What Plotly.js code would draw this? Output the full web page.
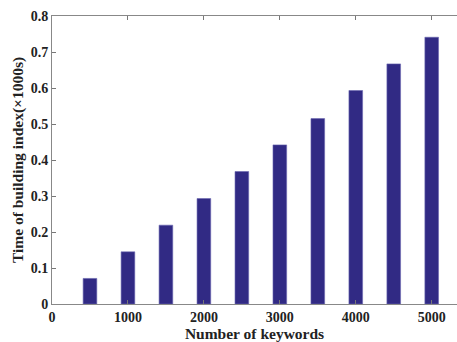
<!DOCTYPE html>
<html>
<head>
<meta charset="utf-8">
<script src="https://cdn.plot.ly/plotly-3.0.1.min.js"></script>
<style>html,body{margin:0;padding:0;background:#fff;}#chart{width:457px;height:342px;}</style>
</head>
<body>
<div id="chart"></div>
<script>
const keywords = [500, 1000, 1500, 2000, 2500, 3000, 3500, 4000, 4500, 5000];
const buildTime = [0.071, 0.145, 0.219, 0.293, 0.368, 0.442, 0.515, 0.593, 0.667, 0.741];
const xTicks = [0, 1000, 2000, 3000, 4000, 5000];
const yTicks = [0, 0.1, 0.2, 0.3, 0.4, 0.5, 0.6, 0.7, 0.8];
const yTickText = ['0', '0.1', '0.2', '0.3', '0.4', '0.5', '0.6', '0.7', '0.8'];

const font = {family: '"Liberation Serif", "Times New Roman", serif', color: '#222'};
Plotly.newPlot('chart', [{
  type: 'bar',
  x: keywords,
  y: buildTime,
  width: 180,
  marker: {color: '#312a84', line: {color: '#6a66b0', width: 0.6}},
  hoverinfo: 'none'
}], {
  width: 457, height: 342,
  margin: {l: 52, r: 0, t: 16, b: 38},
  paper_bgcolor: '#fff', plot_bgcolor: '#fff',
  showlegend: false,
  font: font,
  xaxis: {
    range: [0, 5333], tickvals: xTicks, ticktext: xTicks.map(String),
    ticks: 'inside', ticklen: 4, tickcolor: '#777', tickwidth: 1,
    showline: true, linecolor: '#888', linewidth: 1, mirror: 'ticks',
    showgrid: false, zeroline: false,
    tickfont: {family: font.family, size: 14, color: '#222', weight: 'bold'},
    title: {text: '<b>Number of keywords</b>', font: {family: font.family, size: 15.5, color: '#222'}, standoff: 4}
  },
  yaxis: {
    range: [0, 0.8], tickvals: yTicks, ticktext: yTickText,
    ticks: 'inside', ticklen: 4, tickcolor: '#777', tickwidth: 1,
    showline: true, linecolor: '#888', linewidth: 1, mirror: false,
    showgrid: false, zeroline: false,
    tickfont: {family: font.family, size: 14, color: '#222', weight: 'bold'},
    title: {text: '<b>Time of building index(×1000s)</b>', font: {family: font.family, size: 15.5, color: '#222'}, standoff: 3}
  }
}, {staticPlot: true, displayModeBar: false});
</script>
</body>
</html>
